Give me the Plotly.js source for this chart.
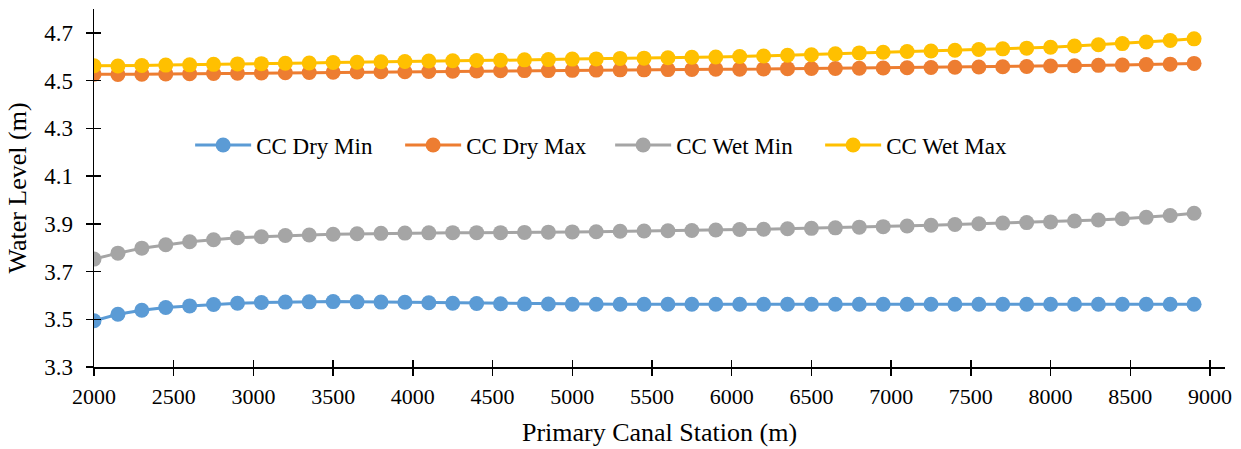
<!DOCTYPE html>
<html>
<head>
<meta charset="utf-8">
<script src="https://cdn.plot.ly/plotly-3.0.1.min.js"></script>
<style>html,body{margin:0;padding:0;background:#fff;}#chart{width:1241px;height:449px;}</style>
</head>
<body>
<div id="chart"></div>
<script>
const stations = [2000,2150,2300,2450,2600,2750,2900,3050,3200,3350,3500,3650,3800,3950,4100,4250,4400,
  4550,4700,4850,5000,5150,5300,5450,5600,5750,5900,6050,6200,6350,6500,6650,6800,
  6950,7100,7250,7400,7550,7700,7850,8000,8150,8300,8450,8600,8750,8900];
const dryMin = [3.494,3.521,3.538,3.549,3.556,3.562,3.567,3.570,3.572,3.573,3.574,3.573,3.572,3.571,3.569,3.567,3.566,
  3.565,3.564,3.564,3.563,3.563,3.563,3.563,3.563,3.563,3.563,3.563,3.563,3.563,3.563,3.563,3.563,
  3.563,3.563,3.563,3.563,3.563,3.563,3.563,3.563,3.563,3.563,3.563,3.563,3.563,3.563];
const dryMax = [4.527,4.526,4.527,4.528,4.529,4.530,4.531,4.532,4.533,4.534,4.535,4.536,4.537,4.537,4.538,4.539,4.540,
  4.541,4.542,4.542,4.543,4.544,4.545,4.545,4.546,4.547,4.548,4.548,4.549,4.550,4.551,4.551,4.552,
  4.553,4.554,4.555,4.556,4.557,4.558,4.559,4.561,4.562,4.564,4.565,4.567,4.569,4.572];
const wetMin = [3.752,3.777,3.798,3.812,3.825,3.833,3.842,3.846,3.851,3.853,3.856,3.858,3.860,3.861,3.862,3.863,3.863,
  3.863,3.864,3.865,3.866,3.867,3.869,3.870,3.871,3.872,3.874,3.876,3.877,3.879,3.881,3.883,3.886,
  3.888,3.891,3.894,3.897,3.900,3.903,3.905,3.908,3.912,3.916,3.921,3.927,3.935,3.944];
const wetMax = [4.562,4.561,4.563,4.565,4.566,4.568,4.570,4.571,4.573,4.574,4.576,4.577,4.579,4.580,4.582,4.583,4.584,
  4.585,4.587,4.588,4.590,4.591,4.593,4.594,4.596,4.598,4.599,4.601,4.603,4.606,4.608,4.612,4.616,
  4.619,4.622,4.624,4.627,4.630,4.633,4.636,4.640,4.645,4.650,4.655,4.662,4.668,4.675];
const seriesNames = ["CC Dry Min","CC Dry Max","CC Wet Min","CC Wet Max"];
const seriesColors = ["#5B9BD5","#ED7D31","#A5A5A5","#FFC000"];
const seriesData = [dryMin, dryMax, wetMin, wetMax];

const traces = seriesData.map((ys, i) => ({
  x: stations, y: ys, name: seriesNames[i], type: "scatter", mode: "lines+markers",
  line: {color: seriesColors[i], width: 3},
  marker: {color: seriesColors[i], size: 15}
}));

const FAM = "Liberation Serif";
const xr = [2000, 9094], yr = [3.3, 4.8];
const layout = {
  width: 1241, height: 449,
  margin: {l: 94, r: 16, t: 9, b: 82},
  paper_bgcolor: "#fff", plot_bgcolor: "#fff",
  font: {family: FAM, size: 22, color: "#000"},
  showlegend: true,
  legend: {orientation: "h", x: 0.085, xanchor: "left", y: 0.62, yanchor: "middle",
    entrywidth: 139, entrywidthmode: "pixels",
    font: {family: FAM, size: 23, color: "#000"}, bgcolor: "rgba(0,0,0,0)", itemwidth: 56, tracegroupgap: 0},
  xaxis: {range: xr, tick0: 2000, dtick: 500, showgrid: false, zeroline: false,
    showline: true, linecolor: "#000", linewidth: 1.5, ticks: "outside", ticklen: 7, tickcolor: "#000", tickwidth: 1.5,
    ticklabelstandoff: 2,
    tickfont: {family: FAM, size: 22, color: "#000"},
    title: {text: "Primary Canal Station (m)", font: {family: FAM, size: 26, color: "#000"}, standoff: 15}},
  yaxis: {range: yr, tick0: 3.3, dtick: 0.2, showgrid: false, zeroline: false, tickformat: ".1f",
    showline: true, linecolor: "#000", linewidth: 1.5, ticks: "outside", ticklen: 7, tickcolor: "#000", tickwidth: 1.5,
    ticklabelstandoff: 8,
    tickfont: {family: FAM, size: 23, color: "#000"},
    title: {text: "Water Level (m)", font: {family: FAM, size: 26, color: "#000"}, standoff: 10}},
  xaxis2: {range: xr, tick0: 2000, dtick: 500, overlaying: "x", anchor: "y", side: "bottom",
    showgrid: false, zeroline: false, showticklabels: false, ticks: "inside", ticklen: 7, tickcolor: "#000", tickwidth: 1.5},
  yaxis2: {range: yr, tick0: 3.3, dtick: 0.2, overlaying: "y", anchor: "x", side: "left",
    showgrid: false, zeroline: false, showticklabels: false, ticks: "inside", ticklen: 7, tickcolor: "#000", tickwidth: 1.5}
};
// invisible helper trace so the secondary (inside-tick) axes are drawn, giving crossing tick marks
traces.push({x: [stations[0]], y: [dryMin[0]], xaxis: "x2", yaxis: "y2", mode: "markers",
  marker: {opacity: 0}, showlegend: false, hoverinfo: "skip"});
Plotly.newPlot("chart", traces, layout, {displayModeBar: false, staticPlot: true});
</script>
</body>
</html>
